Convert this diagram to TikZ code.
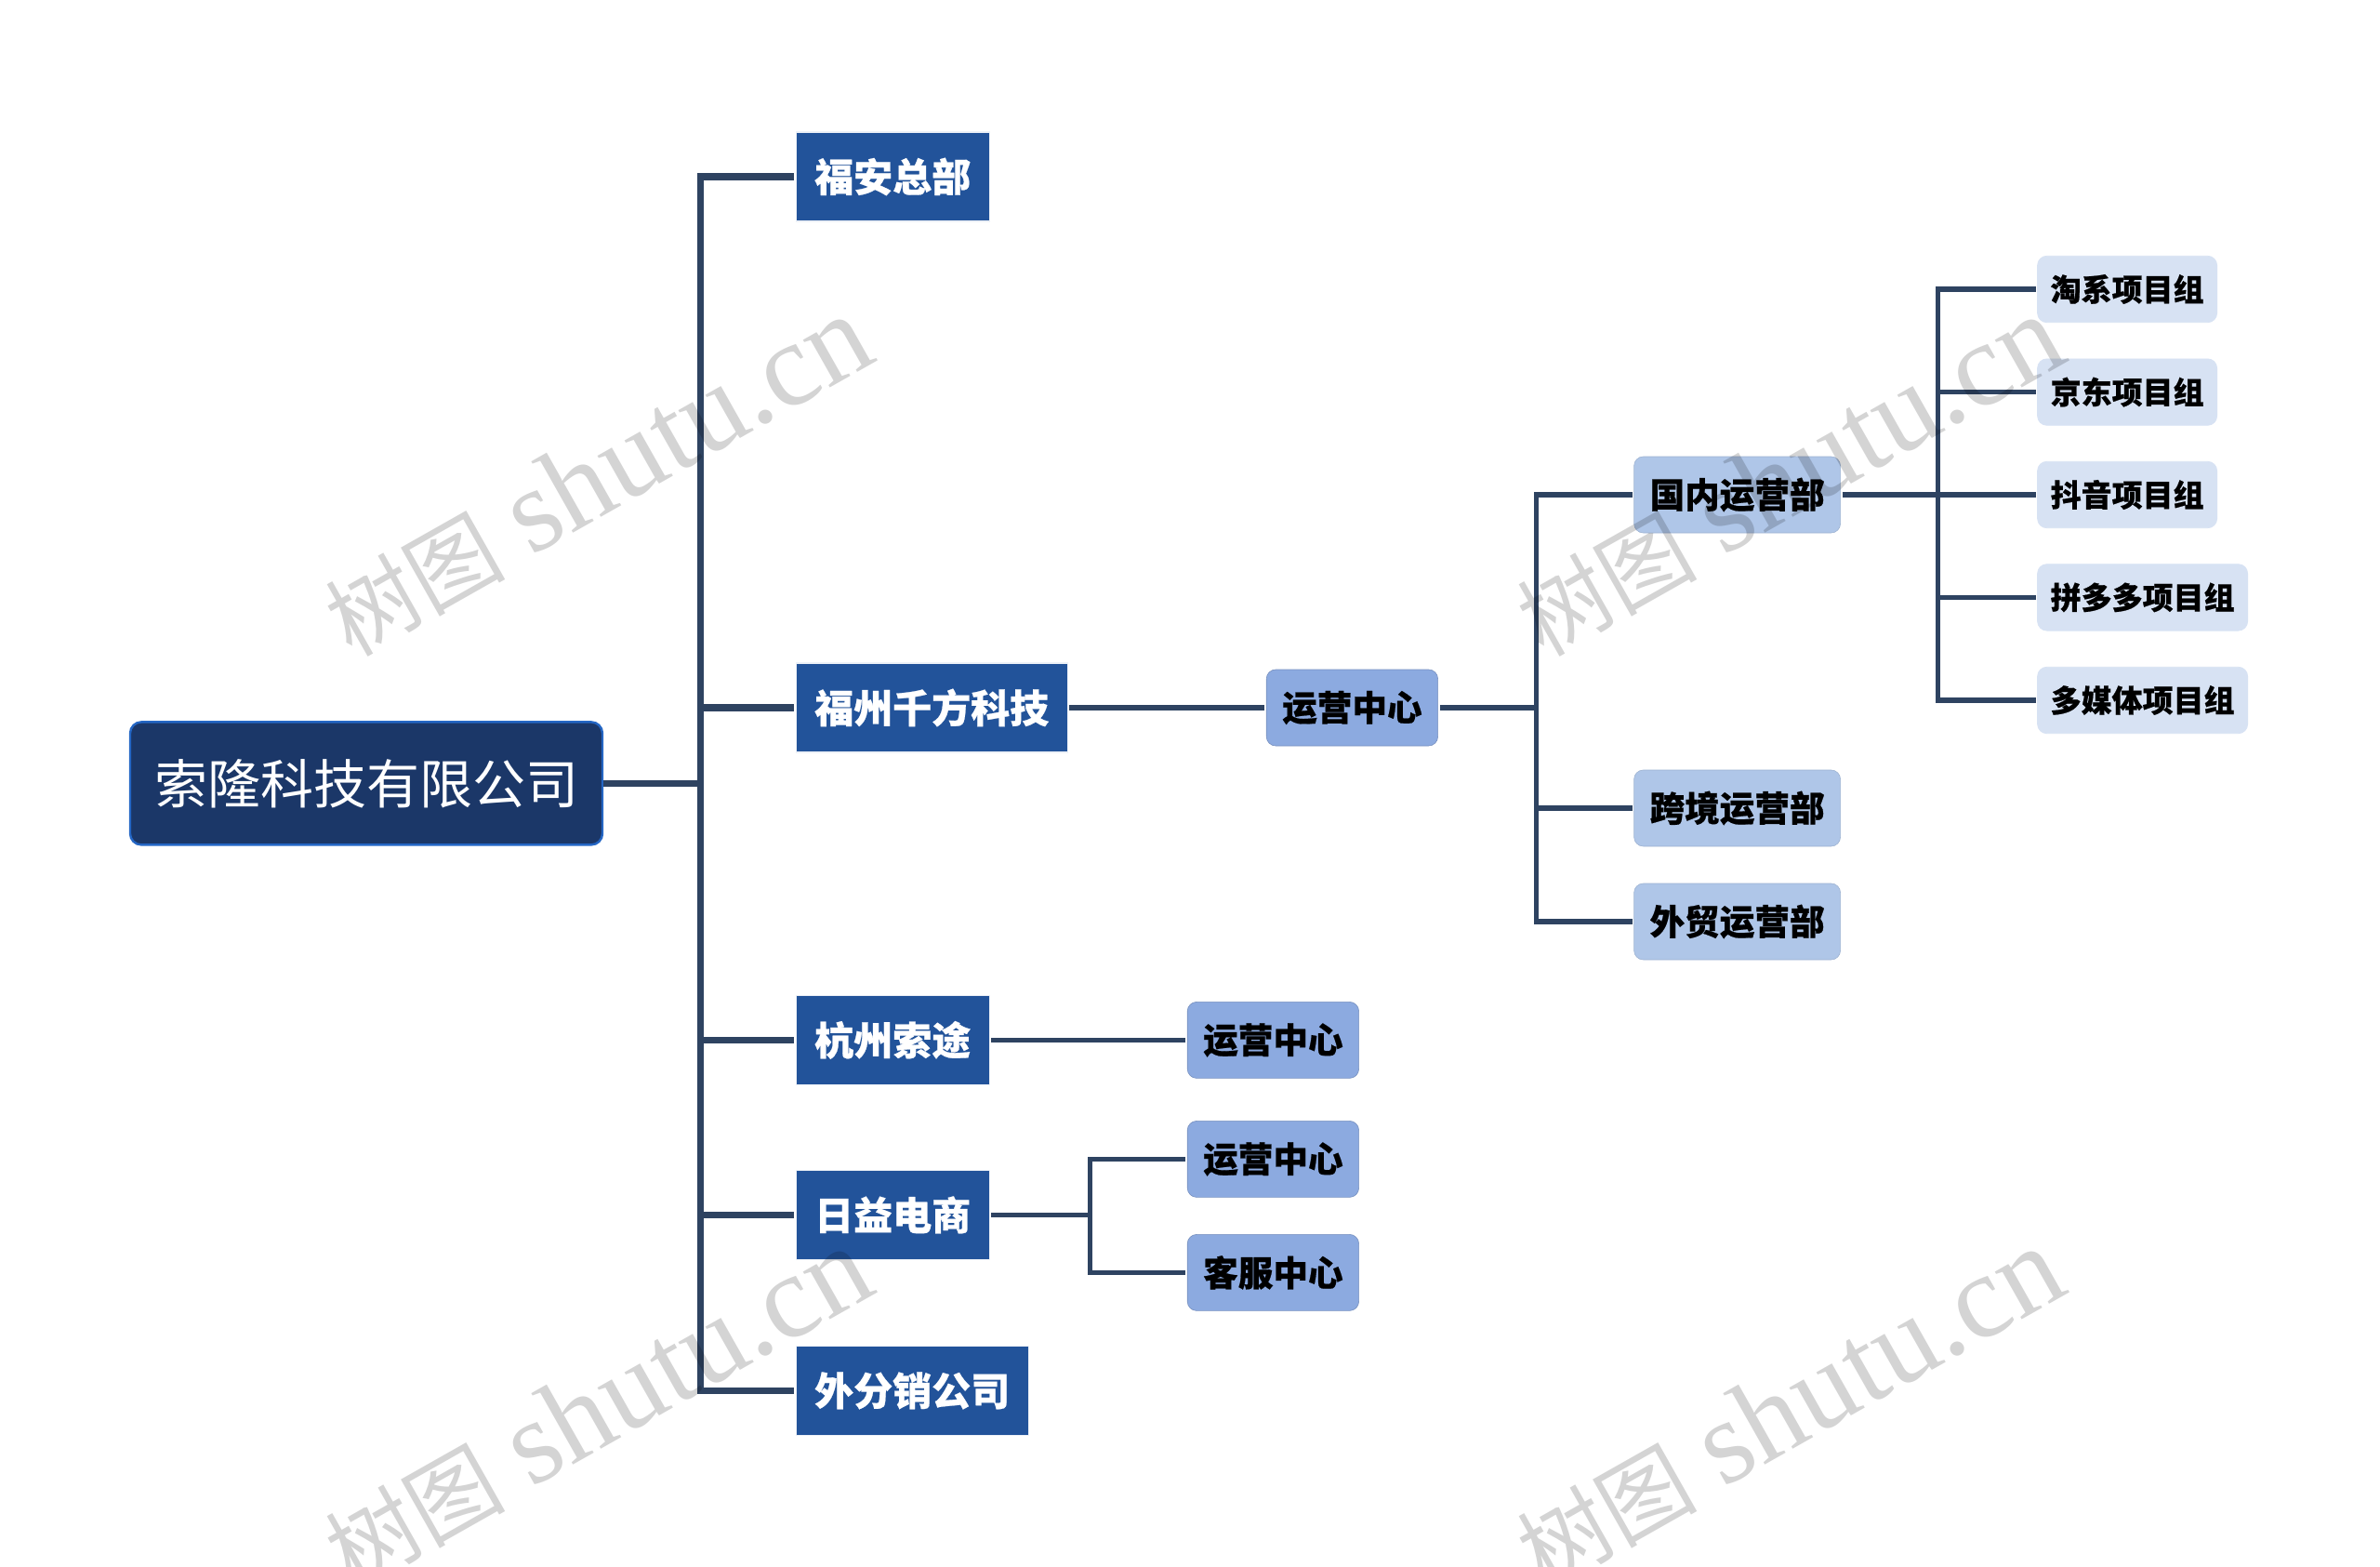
\documentclass[tikz,border=0pt]{standalone}
\usepackage{fontspec}
\setmainfont[BoldFeatures={FakeBold=0.5}]{Noto Sans CJK SC}
\newfontfamily\wmlatin{Liberation Serif}
\usepackage{tikz}
\usetikzlibrary{positioning}
\definecolor{rootfill}{HTML}{1B3768}
\definecolor{rootedge}{HTML}{2466C4}
\definecolor{branchfill}{HTML}{22539A}
\definecolor{hubfill}{HTML}{8CAAE0}
\definecolor{deptfill}{HTML}{AFC6E8}
\definecolor{teamfill}{HTML}{D7E2F3}
\definecolor{linkcolor}{HTML}{2E4361}
\tikzstyle{rootbox} = [draw=rootedge,line width=1.2pt,fill=rootfill,text=white,rounded corners=6pt,font=\fontsize{28.5}{30}\selectfont,minimum height=66pt,inner xsep=13pt,inner ysep=0pt,text width=228pt,align=center]
\tikzstyle{branch} = [draw=branchfill!8,line width=0.6pt,fill=branchfill,text=white,font=\fontsize{21}{24}\selectfont\bfseries,minimum height=48pt,inner xsep=10pt,inner ysep=0pt,outer sep=1pt]
\tikzstyle{hub} = [draw=hubfill!85!black,line width=0.3pt,fill=hubfill,text=black,rounded corners=5pt,font=\fontsize{18.8}{22}\selectfont\bfseries,minimum height=41pt,inner xsep=8.5pt,inner ysep=0pt,outer sep=1pt]
\tikzstyle{dept} = [hub,draw=deptfill!90!black,fill=deptfill]
\tikzstyle{team} = [draw=teamfill,fill=teamfill,text=black,rounded corners=5pt,font=\fontsize{16.5}{20}\selectfont\bfseries,minimum height=35.7pt,inner xsep=7pt,inner ysep=0pt,outer sep=1pt]
\tikzstyle{thickline} = [draw=linkcolor,line width=3.6pt]
\tikzstyle{line} = [draw=linkcolor,line width=2.6pt]
\tikzstyle{wmark} = [text=black,opacity=0.17,rotate=29.5]
\newcommand{\wmtext}{{\fontsize{48.5}{60}\selectfont 树图}\hspace{14pt}{\wmlatin\fontsize{64}{60}\selectfont shutu.cn}}

\begin{document}
\begin{tikzpicture}[auto,node distance=1.0cm]
            \clip (0,0) rectangle (1280pt,-842.5pt);
            \node[rootbox] (root) at (197pt,-421.2pt) {索隆科技有限公司};
            \coordinate[right = 52pt of root] (busroot);
            % first level
            \node[branch] (branch1) [right = 102.5pt of root, yshift=326.2pt] {福安总部};
            \node[branch] (branch2) [right = 102.5pt of root, yshift=40.7pt] {福州千方科技};
            \node[branch] (branch3) [right = 102.5pt of root, yshift=-138pt] {杭州索途};
            \node[branch] (branch4) [right = 102.5pt of root, yshift=-232pt] {日益电商};
            \node[branch] (branch5) [right = 102.5pt of root, yshift=-326.5pt] {外分销公司};
            \path[thickline] (root) -- (busroot);
            \path[thickline] (busroot) |- (branch1);
            \path[thickline] (busroot) |- (branch2);
            \path[thickline] (busroot) |- (branch3);
            \path[thickline] (busroot) |- (branch4);
            \path[thickline] (busroot) |- (branch5);
            % hubs
            \node[hub] (hub1) [right = 105pt of branch2] {运营中心} edge [line] (branch2);
            \node[hub] (hub2) [right = 104.5pt of branch3] {运营中心} edge [line] (branch3);
            \node[hub] (hub3) [right = 104.5pt of branch4, yshift=30pt] {运营中心};
            \node[hub] (hub4) [right = 104.5pt of branch4, yshift=-31pt] {客服中心};
            \coordinate[right = 53pt of branch4] (busbranch4);
            \path[line] (branch4) -- (busbranch4);
            \path[line] (busbranch4) |- (hub3);
            \path[line] (busbranch4) |- (hub4);
            % departments
            \node[dept] (dept1) [right = 103.5pt of hub1, yshift=114.5pt] {国内运营部};
            \node[dept] (dept2) [right = 103.5pt of hub1, yshift=-54pt] {跨境运营部};
            \node[dept] (dept3) [right = 103.5pt of hub1, yshift=-115pt] {外贸运营部};
            \coordinate[right = 52pt of hub1] (bushub1);
            \path[line] (hub1) -- (bushub1);
            \path[line] (bushub1) |- (dept1);
            \path[line] (bushub1) |- (dept2);
            \path[line] (bushub1) |- (dept3);
            % teams
            \node[team] (team1) [right = 104pt of dept1, yshift=110.5pt] {淘系项目组};
            \node[team] (team2) [right = 104pt of dept1, yshift=55.2pt] {京东项目组};
            \node[team] (team3) [right = 104pt of dept1] {抖音项目组};
            \node[team] (team4) [right = 104pt of dept1, yshift=-55.2pt] {拼多多项目组};
            \node[team] (team5) [right = 104pt of dept1, yshift=-110.5pt] {多媒体项目组};
            \coordinate[right = 51.5pt of dept1] (busdept1);
            \path[line] (dept1) -- (team3);
            \path[line] (busdept1) |- (team1);
            \path[line] (busdept1) |- (team2);
            \path[line] (busdept1) |- (team4);
            \path[line] (busdept1) |- (team5);
            % watermarks
            \node[wmark] (wmark1) at (321pt,-256pt) {\wmtext};
            \node[wmark] (wmark2) at (962pt,-256pt) {\wmtext};
            \node[wmark] (wmark3) at (321pt,-757pt) {\wmtext};
            \node[wmark] (wmark4) at (962pt,-757pt) {\wmtext};
        \end{tikzpicture}
\end{document}
